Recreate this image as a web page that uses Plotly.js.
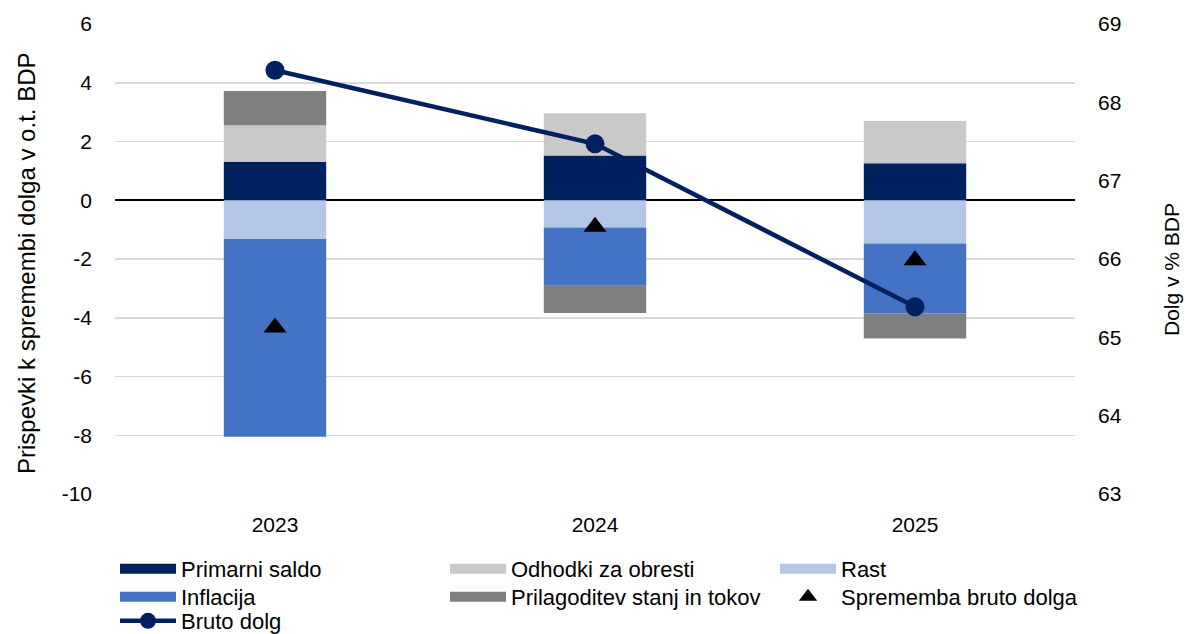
<!DOCTYPE html>
<html>
<head>
<meta charset="utf-8">
<script src="https://cdn.plot.ly/plotly-3.0.1.min.js"></script>
<style>html,body{margin:0;padding:0;background:#fff;} #chart{width:1186px;height:634px;}</style>
</head>
<body>
<div id="chart"></div>
<script>
const years = ['2023', '2024', '2025'];
const primarniSaldo = [1.31, 1.52, 1.26];
const odhodkiObresti = [1.24, 1.44, 1.44];
const rast = [-1.32, -0.93, -1.47];
const inflacija = [-6.73, -1.98, -2.38];
const prilagoditev = [1.17, -0.93, -0.86];
const spremembaDolga = [-4.33, -0.90, -2.04];
const brutoDolg = [68.41, 67.47, 65.39];
const leftTicks = [-10, -8, -6, -4, -2, 0, 2, 4, 6];
const leftTickText = ['-10', '-8', '-6', '-4', '-2', '0', '2', '4', '6'];
const rightTicks = [63, 64, 65, 66, 67, 68, 69];
const leftTitle = 'Prispevki k spremembi dolga v o.t. BDP';
const rightTitle = 'Dolg v % BDP';

const FONT = '"Liberation Sans", Arial, sans-serif';
const FS = 21;
const LFS = 22;

const barSeries = [
  {name: 'Primarni saldo', vals: primarniSaldo, color: '#002060', legend: 'legend'},
  {name: 'Odhodki za obresti', vals: odhodkiObresti, color: '#c9c9c9', legend: 'legend2'},
  {name: 'Rast', vals: rast, color: '#b4c7e7', legend: 'legend3'},
  {name: 'Inflacija', vals: inflacija, color: '#4472c4', legend: 'legend4'},
  {name: 'Prilagoditev stanj in tokov', vals: prilagoditev, color: '#7f7f7f', legend: 'legend5'}
];

const traces = [];
barSeries.forEach(s => {
  traces.push({type: 'bar', name: s.name, x: years, y: s.vals, showlegend: false,
               marker: {color: s.color, line: {width: 0}}, hoverinfo: 'y+name'});
});
// legend swatches (wide rectangles) for the bar series
barSeries.forEach(s => {
  traces.push({type: 'scatter', mode: 'lines', name: s.name, x: [null], y: [null], legend: s.legend,
               line: {color: s.color, width: 10}, hoverinfo: 'skip'});
});
traces.push({type: 'scatter', mode: 'markers', name: 'Sprememba bruto dolga', x: years, y: spremembaDolga,
   legend: 'legend6', marker: {symbol: 'triangle-up', size: 20, color: '#000000'}});
traces.push({type: 'scatter', mode: 'lines+markers', name: 'Bruto dolg', x: years, y: brutoDolg, yaxis: 'y2',
   legend: 'legend7', line: {color: '#002060', width: 4.5}, marker: {symbol: 'circle', size: 19, color: '#002060'}});

function leg(xpx, ypx) {
  return {orientation: 'v', xref: 'container', yref: 'container', x: xpx / 1186, y: 1 - ypx / 634,
          xanchor: 'left', yanchor: 'top', font: {size: LFS, family: FONT}, itemwidth: 56,
          bgcolor: 'rgba(0,0,0,0)', borderwidth: 0};
}

const layout = {
  width: 1186, height: 634,
  margin: {l: 115, r: 111, t: 24, b: 140, autoexpand: false},
  paper_bgcolor: '#ffffff', plot_bgcolor: '#ffffff',
  font: {family: FONT, size: FS, color: '#000000'},
  barmode: 'relative',
  bargap: 0.68,
  showlegend: true,
  xaxis: {type: 'category', showgrid: false, zeroline: false, showline: false, ticks: '',
          tickfont: {size: FS}, ticklabelstandoff: 16, automargin: false},
  yaxis: {range: [-10, 6], tickvals: leftTicks, ticktext: leftTickText, showgrid: true, gridcolor: '#d9d9d9', gridwidth: 1.5,
          zeroline: true, zerolinecolor: '#000000', zerolinewidth: 2, showline: false, ticks: '',
          tickfont: {size: FS}, ticklabelstandoff: 22, automargin: false},
  yaxis2: {overlaying: 'y', side: 'right', range: [63, 69], tickvals: rightTicks, showgrid: false, zeroline: false,
           showline: false, ticks: '', tickfont: {size: FS}, ticklabelstandoff: 22, automargin: false},
  annotations: [
    {text: leftTitle, xref: 'paper', yref: 'paper', x: (26 - 115) / 960, y: (494 - 263) / 470,
     xanchor: 'center', yanchor: 'middle', textangle: -90, showarrow: false, font: {size: 24}},
    {text: rightTitle, xref: 'paper', yref: 'paper', x: (1171 - 115) / 960, y: (494 - 270) / 470,
     xanchor: 'center', yanchor: 'middle', textangle: -90, showarrow: false, font: {size: 21}}
  ],
  legend: leg(115, 548),
  legend2: leg(445, 548),
  legend3: leg(775, 548),
  legend4: leg(115, 576),
  legend5: leg(445, 576),
  legend6: leg(775, 576),
  legend7: leg(115, 600)
};

Plotly.newPlot('chart', traces, layout, {displayModeBar: false, staticPlot: true});
</script>
</body>
</html>
